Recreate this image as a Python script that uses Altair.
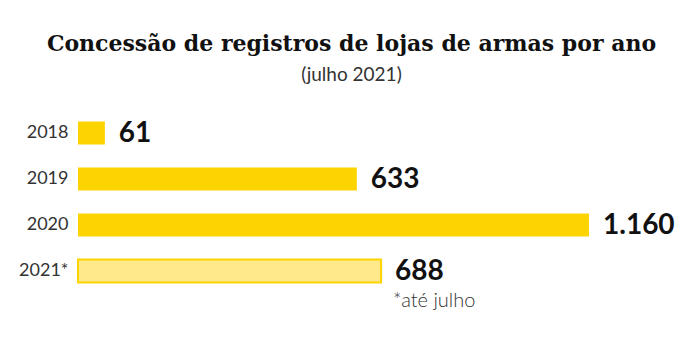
import altair as alt
import pandas as pd

anos = ["2018", "2019", "2020", "2021*"]
valores = [61, 633, 1160, 688]
rotulos = ["61", "633", "1.160", "688"]
tipo = ["completo", "completo", "completo", "parcial"]

df = pd.DataFrame({"ano": anos, "valor": valores, "rotulo": rotulos, "tipo": tipo})

y_enc = alt.Y(
    "ano:N",
    sort=anos,
    scale=alt.Scale(paddingInner=0.5, paddingOuter=0.25),
    axis=alt.Axis(
        title=None, domain=False, ticks=False, labelPadding=10,
        labelFont="Lato", labelFontSize=18, labelColor="#333333",
    ),
)
x_enc = alt.X("valor:Q", scale=alt.Scale(domain=[0, 1160], nice=False), axis=None)

bars = alt.Chart(df).mark_bar(stroke="#FDD300").encode(
    x=x_enc,
    y=y_enc,
    fill=alt.Fill(
        "tipo:N",
        scale=alt.Scale(domain=["completo", "parcial"], range=["#FDD300", "#FFE98A"]),
        legend=None,
    ),
    strokeWidth=alt.condition(alt.datum.tipo == "parcial", alt.value(2), alt.value(0)),
)

labels = alt.Chart(df).mark_text(
    align="left", baseline="middle", dx=14, dy=1,
    font="Lato", fontSize=28, fontWeight="bold", color="#111111",
).encode(x=x_enc, y=y_enc, text="rotulo:N")

nota = alt.Chart(df[df["tipo"] == "parcial"]).mark_text(
    align="left", baseline="middle", dx=12, dy=30,
    font="Lato", fontSize=20, fontWeight=300, color="#333333",
).encode(x=x_enc, y=y_enc, text=alt.value("*até julho"))

chart = (
    alt.layer(bars, labels, nota)
    .properties(
        width=511,
        height=184,
        padding={"left": 10, "top": 25, "right": 10, "bottom": 10},
        background="white",
        title=alt.TitleParams(
            text="Concessão de registros de lojas de armas por ano",
            subtitle="(julho 2021)",
            font="DejaVu Serif", fontSize=22, fontWeight="bold", color="#111111",
            subtitleFont="Lato", subtitleFontSize=19, subtitleColor="#333333",
            subtitlePadding=10, anchor="middle", dx=18, offset=24,
        ),
    )
    .configure_view(stroke=None)
)

chart.save("out.html", embed_options={"renderer": "svg", "actions": False})
